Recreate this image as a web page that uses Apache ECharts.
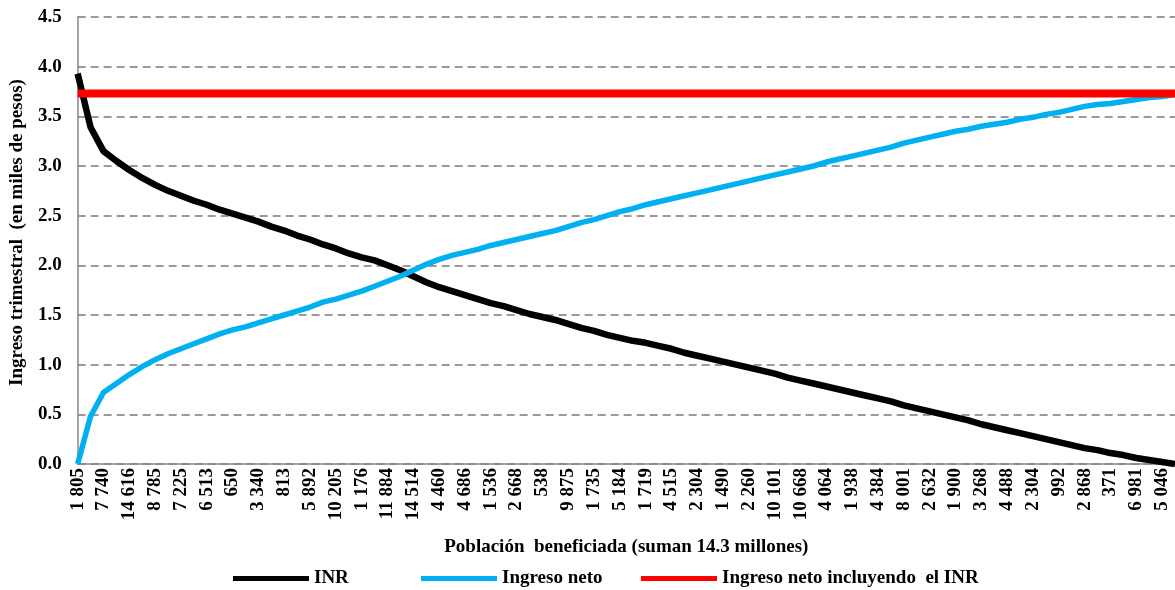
<!DOCTYPE html>
<html><head><meta charset="utf-8">
<script src="https://cdn.jsdelivr.net/npm/echarts@6/dist/echarts.min.js"></script>
<style>html,body{margin:0;padding:0;background:#fff}#c{width:1175px;height:590px}</style>
</head><body><div id="c"></div>
<script>
// Tick labels shown on the x axis (population of each labelled group)
const tickLabels = ['1 805','7 740','14 616','8 785','7 225','6 513','650','3 340','813','5 892',
  '10 205','1 176','11 884','14 514','4 460','4 686','1 536','2 668','538','9 875',
  '1 735','5 184','1 719','4 515','2 304','1 490','2 260','10 101','10 668','4 064',
  '1 938','4 384','8 001','2 632','1 900','3 268','4 488','2 304','992','2 868',
  '371','6 981','5 046'];

// INR (miles de pesos), two readings per labelled group
const inr = [3.93,3.39,3.15,3.05,2.96,2.88,2.81,2.75,2.70,2.65,
  2.61,2.56,2.52,2.48,2.44,2.39,2.35,2.30,2.26,2.21,
  2.17,2.12,2.08,2.05,2.00,1.95,1.89,1.83,1.78,1.74,
  1.70,1.66,1.62,1.59,1.55,1.51,1.48,1.45,1.41,1.37,
  1.34,1.30,1.27,1.24,1.22,1.19,1.16,1.12,1.09,1.06,
  1.03,1.00,0.97,0.94,0.91,0.87,0.84,0.81,0.78,0.75,
  0.72,0.69,0.66,0.63,0.59,0.56,0.53,0.50,0.47,0.44,
  0.40,0.37,0.34,0.31,0.28,0.25,0.22,0.19,0.16,0.14,
  0.11,0.09,0.06,0.04,0.02,0.00];

// Ingreso neto (miles de pesos)
const ingresoNeto = [0.00,0.48,0.72,0.81,0.90,0.98,1.05,1.11,1.16,1.21,
  1.26,1.31,1.35,1.38,1.42,1.46,1.50,1.54,1.58,1.63,
  1.66,1.70,1.74,1.79,1.84,1.89,1.95,2.01,2.06,2.10,
  2.13,2.16,2.20,2.23,2.26,2.29,2.32,2.35,2.39,2.43,
  2.46,2.50,2.54,2.57,2.61,2.64,2.67,2.70,2.73,2.76,
  2.79,2.82,2.85,2.88,2.91,2.94,2.97,3.00,3.04,3.07,
  3.10,3.13,3.16,3.19,3.23,3.26,3.29,3.32,3.35,3.37,
  3.40,3.42,3.44,3.47,3.49,3.52,3.54,3.57,3.60,3.62,
  3.63,3.65,3.67,3.69,3.70,3.72];

// Ingreso neto incluyendo el INR (constant level)
const ingresoConINR = [3.73, 3.73];

const seriesNames = ['INR', 'Ingreso neto', 'Ingreso neto incluyendo  el INR'];
const yMin = 0, yMax = 4.5, yStep = 0.5;

// build category list: each labelled group followed by an unlabelled sub-step
const categories = [];
tickLabels.forEach(t => { categories.push(t); categories.push(''); });
const lastIdx = categories.length - 1;

const FONT = '"Liberation Serif", "Times New Roman", serif';
const FS = 19;
const chart = echarts.init(document.getElementById('c'), null, {renderer: 'canvas'});
const legendCommon = {
  bottom: 2, icon: 'rect', itemWidth: 76, itemHeight: 5,
  textStyle: {fontFamily: FONT, fontWeight: 'bold', fontSize: FS, color: '#000'},
  selectedMode: false, padding: 0
};
chart.setOption({
  animation: false,
  backgroundColor: '#fff',
  grid: {left: 76, right: -6, top: 17, bottom: 126, containLabel: false},
  legend: [
    Object.assign({left: 233, data: [seriesNames[0]]}, legendCommon),
    Object.assign({left: 421, data: [seriesNames[1]]}, legendCommon),
    Object.assign({left: 641, data: [seriesNames[2]]}, legendCommon)
  ],
  xAxis: {
    type: 'category', data: categories, boundaryGap: false,
    name: 'Población  beneficiada (suman 14.3 millones)',
    nameLocation: 'middle', nameGap: 74,
    nameTextStyle: {fontFamily: FONT, fontWeight: 'bold', fontSize: FS, color: '#000'},
    axisLine: {show: true, lineStyle: {color: '#868686', width: 1.5}},
    axisTick: {show: false},
    splitLine: {show: false},
    axisLabel: {interval: 0, rotate: 90, margin: 4, fontFamily: FONT, fontWeight: 'bold',
      fontSize: FS, color: '#000'}
  },
  yAxis: {
    type: 'value', min: yMin, max: yMax, interval: yStep,
    name: 'Ingreso trimestral  (en miles de pesos)',
    nameLocation: 'middle', nameGap: 50, nameRotate: 90,
    nameTextStyle: {fontFamily: FONT, fontWeight: 'bold', fontSize: FS, color: '#000',
      padding: [0, 0, 0, 16]},
    axisLine: {show: true, lineStyle: {color: '#868686', width: 1.5}},
    axisTick: {show: false},
    splitLine: {show: true, lineStyle: {color: '#7a7a7a', width: 1.5, type: [8, 5]}},
    axisLabel: {margin: 16, fontFamily: FONT, fontWeight: 'bold', fontSize: FS, color: '#000',
      formatter: v => v.toFixed(1)}
  },
  series: [
    {name: seriesNames[0], type: 'line', data: inr, showSymbol: false, symbol: 'none',
     color: '#000000', lineStyle: {color: '#000000', width: 6.5}, z: 2},
    {name: seriesNames[1], type: 'line', data: ingresoNeto, showSymbol: false, symbol: 'none',
     color: '#00b0f0', lineStyle: {color: '#00b0f0', width: 5.5}, z: 3},
    {name: seriesNames[2], type: 'line',
     data: [[0, ingresoConINR[0]], [lastIdx, ingresoConINR[1]]],
     showSymbol: false, symbol: 'none',
     color: '#ff0000', lineStyle: {color: '#ff0000', width: 8}, z: 4}
  ]
});
</script></body></html>
